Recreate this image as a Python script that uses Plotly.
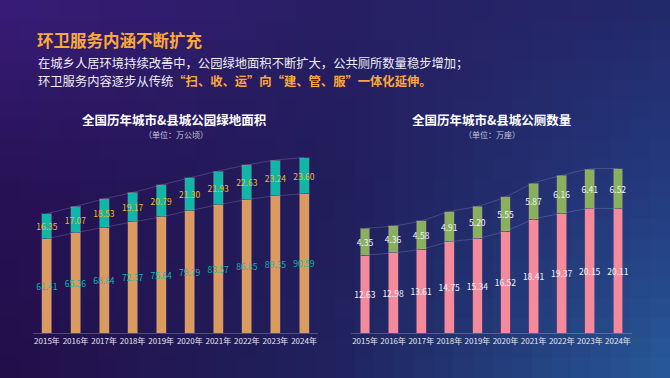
import plotly.graph_objects as go
import numpy as np

years = ["2015年", "2016年", "2017年", "2018年", "2019年", "2020年", "2021年", "2022年", "2023年", "2024年"]
park_city = [61.41, 65.36, 68.84, 72.37, 75.64, 79.79, 83.57, 86.85, 89.35, 90.59]
park_county = [16.35, 17.07, 18.53, 19.17, 20.79, 21.30, 21.93, 22.63, 23.24, 23.60]
toilet_city = [12.63, 12.98, 13.61, 14.75, 15.34, 16.52, 18.41, 19.37, 20.15, 20.11]
toilet_county = [4.35, 4.36, 4.58, 4.91, 5.20, 5.55, 5.87, 6.16, 6.41, 6.52]

FONT = "Noto Sans CJK SC"
W, H = 670, 378

# ---- background gradient (decorative) ----
ctrl = np.array([
    [[0x3a, 0x1c, 0x78], [0x28, 0x1e, 0x64], [0x22, 0x28, 0x6a]],
    [[0x26, 0x11, 0x55], [0x21, 0x1d, 0x5a], [0x24, 0x3c, 0x80]],
    [[0x22, 0x0e, 0x48], [0x20, 0x22, 0x5e], [0x27, 0x5a, 0x9a]],
], dtype=float)  # rows: top->bottom, cols: left->right
nx, ny = 34, 19
cols = []
z = np.zeros((ny, nx))
k = 0
N = nx * ny
for j in range(ny):
    fy = 1 - (j + 0.5) / ny
    gy = fy * 2
    r0 = min(int(gy), 1)
    ty = gy - r0
    for i in range(nx):
        fx = (i + 0.5) / nx
        gx = fx * 2
        c0 = min(int(gx), 1)
        tx = gx - c0
        a = ctrl[r0, c0] * (1 - tx) + ctrl[r0, c0 + 1] * tx
        b = ctrl[r0 + 1, c0] * (1 - tx) + ctrl[r0 + 1, c0 + 1] * tx
        c = a * (1 - ty) + b * ty
        z[j, i] = k / (N - 1)
        cols.append([k / (N - 1), "rgb(%d,%d,%d)" % tuple(int(round(v)) for v in c)])
        k += 1

fig = go.Figure()
fig.add_trace(go.Heatmap(z=z, x=(np.arange(nx) + 0.5) / nx, y=(np.arange(ny) + 0.5) / ny,
                         colorscale=cols, showscale=False, hoverinfo="skip",
                         xaxis="x", yaxis="y", zmin=0, zmax=1))

def add_chart(xa, ya, base, top, c_base, c_top, tc_base, tc_top, edge):
    totals = [a + b for a, b in zip(base, top)]
    fig.add_trace(go.Bar(x=years, y=base, marker=dict(color=c_base, line=dict(color=edge, width=1)),
                         text=["%.2f" % v for v in base], textposition="inside",
                         insidetextanchor="middle", textangle=0, constraintext="none",
                         insidetextfont=dict(color=tc_base, size=8.5, family=FONT),
                         xaxis=xa, yaxis=ya, width=0.35, hoverinfo="skip"))
    fig.add_trace(go.Bar(x=years, y=top, marker=dict(color=c_top, line=dict(color=edge, width=1)),
                         text=["%.2f" % v for v in top], textposition="inside",
                         insidetextanchor="middle", textangle=0, constraintext="none",
                         insidetextfont=dict(color=tc_top, size=8.5, family=FONT),
                         xaxis=xa, yaxis=ya, width=0.35, hoverinfo="skip"))
    for vals in (base, totals):
        fig.add_trace(go.Scatter(x=years, y=vals, mode="lines",
                                 line=dict(color="rgba(200,200,230,0.22)", width=1, shape="spline"),
                                 xaxis=xa, yaxis=ya, hoverinfo="skip"))

add_chart("x2", "y2", park_city, park_county, "#d99b5f", "#10b6a6", "#1cb8aa", "#eabd1c",
          "rgba(90,60,110,0.7)")
add_chart("x3", "y3", toilet_city, toilet_county, "#f48b9c", "#89b05c", "#f4f4f8", "#f4f4f8",
          "rgba(90,70,130,0.7)")

yb = (H - 333) / H
axis_x = dict(showgrid=False, zeroline=False, showline=True, linecolor="rgba(190,190,230,0.3)",
              linewidth=1, ticks="", tickfont=dict(color="#e6e6ee", size=8, family=FONT),
              fixedrange=True)
axis_y = dict(showgrid=False, zeroline=False, showline=False, showticklabels=False, fixedrange=True)

fig.update_layout(
    width=W, height=H, margin=dict(l=0, r=0, t=0, b=0),
    paper_bgcolor="#241650", plot_bgcolor="rgba(0,0,0,0)",
    barmode="stack", showlegend=False, font=dict(family=FONT),
    xaxis=dict(domain=[0, 1], range=[0, 1], visible=False, fixedrange=True),
    yaxis=dict(domain=[0, 1], range=[0, 1], visible=False, fixedrange=True),
    xaxis2=dict(domain=[32.7 / W, 318.3 / W], anchor="y2", **axis_x),
    yaxis2=dict(domain=[yb, (H - 148.8) / H], range=[0, 120], anchor="x2", **axis_y),
    xaxis3=dict(domain=[351 / W, 632 / W], anchor="y3", **axis_x),
    yaxis3=dict(domain=[yb, (H - 160.2) / H], range=[0, 28], anchor="x3", **axis_y),
)

def ann(text, x, y, size, color, xanchor="left"):
    fig.add_annotation(text=text, x=x / W, y=1 - y / H, xref="paper", yref="paper",
                       xanchor=xanchor, yanchor="middle", showarrow=False,
                       font=dict(size=size, color=color, family=FONT))

ann("<b>环卫服务内涵不断扩充</b>", 35, 40, 16.5, "#fda83a")
ann("在城乡人居环境持续改善中，公园绿地面积不断扩大，公共厕所数量稳步增加；", 36, 63, 12.3, "#eeeef4")
ann("环卫服务内容逐步从传统<b><span style='color:#fda83a'>“扫、收、运”向“建、管、服”一体化延伸。</span></b>",
    36, 81, 12.3, "#eeeef4")
ann("<b>全国历年城市&县城公园绿地面积</b>", 175, 119, 12.5, "#ffffff", "center")
ann("（单位：万公顷）", 176, 134.5, 8, "#c8c8dc", "center")
ann("<b>全国历年城市&县城公厕数量</b>", 491, 119, 12.5, "#ffffff", "center")
ann("（单位：万座）", 492, 134.5, 8, "#c8c8dc", "center")

fig.write_html("out.html", config={"displayModeBar": False, "staticPlot": True},
               post_script="document.body.style.margin='0px';document.body.style.overflow='hidden';")
